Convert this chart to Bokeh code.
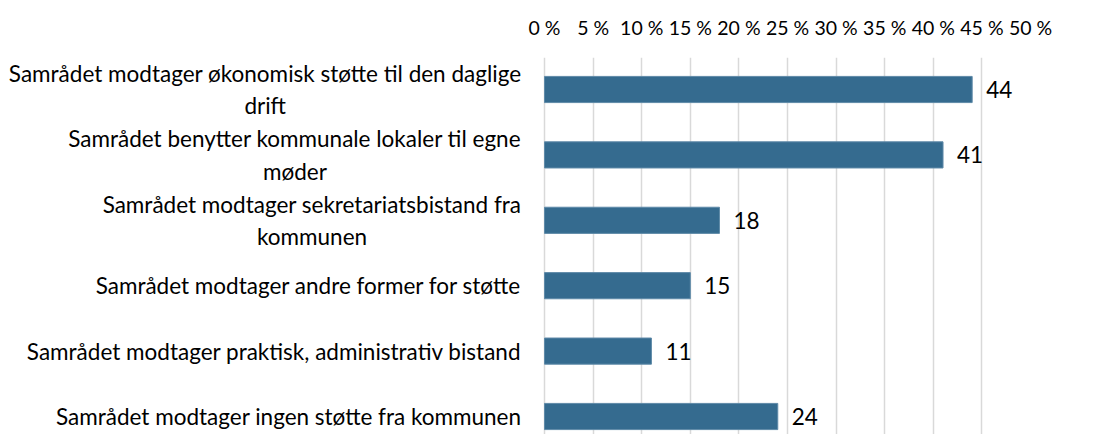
from bokeh.plotting import figure
from bokeh.models import Range1d, FixedTicker, PrintfTickFormatter
from bokeh.core.properties import value
from bokeh.embed import file_html
from bokeh.resources import INLINE

categories = [
    "Samrådet modtager økonomisk støtte til den daglige\ndrift",
    "Samrådet benytter kommunale lokaler til egne\nmøder",
    "Samrådet modtager sekretariatsbistand fra\nkommunen",
    "Samrådet modtager andre former for støtte",
    "Samrådet modtager praktisk, administrativ bistand",
    "Samrådet modtager ingen støtte fra kommunen",
]
values = [44, 41, 18, 15, 11, 24]
x_ticks = [0, 5, 10, 15, 20, 25, 30, 35, 40, 45, 50]

FONT = "Lato"
FS = "22.5px"
TICK_FS = "19.5px"
BAR = "#356B8F"

pos = list(range(len(categories)))

# layout (pixels): value axis 0..50 spans x 544..1030, frame top at 57, row pitch 65.4
W, H = 1099, 434
X0, X1, TOP = 544, 1030, 57
ppu = (X1 - X0) / 50.0
pitch = 65.4
y_top = -32.0 / pitch
y_bot = y_top + (H - TOP) / pitch

p = figure(width=W, height=H, output_backend="svg", toolbar_location=None,
           x_range=Range1d(-X0 / ppu, 50), y_range=Range1d(y_bot, y_top),
           x_axis_location="above", y_axis_location=None,
           min_border_left=0, min_border_right=W - X1,
           min_border_top=TOP, min_border_bottom=0)
p.outline_line_color = None
p.background_fill_color = "white"
p.border_fill_color = "white"

p.hbar(y=pos, right=values, left=0, height=0.4, fill_color=BAR, line_color="#5f8aa8", line_width=1)
p.text(x=values, y=pos, text=[str(v) for v in values], x_offset=14,
       text_baseline="middle", text_align="left",
       text_font=value(FONT), text_font_size=FS, text_color="#000000")
p.text(x=[0] * len(pos), y=pos, text=categories, x_offset=-23,
       text_align="center", text_baseline="middle", anchor="center_right",
       text_line_height=1.2,
       text_font=value(FONT), text_font_size=FS, text_color="#000000")

xa = p.xaxis[0]
xa.ticker = FixedTicker(ticks=x_ticks)
xa.formatter = PrintfTickFormatter(format="%d %%")
xa.axis_line_color = None
xa.major_tick_line_color = None
xa.minor_tick_line_color = None
xa.major_label_standoff = 13
xa.major_label_text_font = FONT
xa.major_label_text_font_size = TICK_FS
xa.major_label_text_color = "#000000"

p.xgrid.ticker = FixedTicker(ticks=x_ticks)
p.xgrid.grid_line_color = "#d9d9d9"
p.xgrid.grid_line_width = 1.5
p.ygrid.grid_line_color = None

open("out.html", "w").write(file_html(p, INLINE))
